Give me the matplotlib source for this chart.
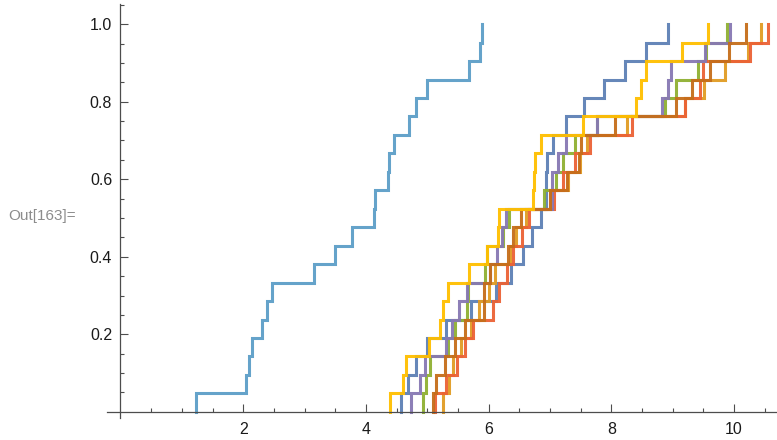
import matplotlib.pyplot as plt
import numpy as np

blue = [4.57, 4.69, 4.81, 4.99, 5.30, 5.72, 6.12, 6.37, 6.56, 6.71, 6.86,
        6.93, 6.94, 6.95, 7.05, 7.26, 7.56, 7.88, 8.23, 8.56, 8.92]
orange = [5.26, 5.36, 5.42, 5.55, 5.72, 5.85, 6.00, 6.10, 6.35, 6.45, 6.61,
          7.00, 7.30, 7.49, 7.60, 8.25, 9.20, 9.51, 9.85, 10.23, 10.44]
green = [4.93, 4.98, 5.04, 5.33, 5.45, 5.64, 5.67, 5.94, 5.98, 6.24, 6.34,
         6.90, 7.10, 7.22, 7.41, 7.77, 8.87, 9.05, 9.42, 9.55, 9.88]
red = [5.12, 5.31, 5.48, 5.61, 5.75, 6.07, 6.17, 6.30, 6.40, 6.55, 6.65,
       7.07, 7.22, 7.40, 7.65, 8.33, 9.20, 9.44, 9.50, 10.26, 10.56]
purple = [4.74, 4.88, 4.96, 5.30, 5.40, 5.52, 5.65, 6.02, 6.13, 6.21, 6.28,
          7.03, 7.04, 7.13, 7.26, 7.76, 8.82, 8.93, 8.98, 9.53, 9.94]
brown = [5.09, 5.15, 5.29, 5.45, 5.61, 5.92, 5.93, 6.02, 6.32, 6.39, 6.52,
         7.00, 7.28, 7.48, 7.50, 8.06, 9.06, 9.31, 9.60, 9.91, 10.19]
light_blue = [1.23, 2.05, 2.10, 2.14, 2.30, 2.39, 2.47, 3.16, 3.49, 3.78, 4.13,
              4.14, 4.36, 4.38, 4.45, 4.71, 4.81, 5.00, 5.68, 5.86, 5.89]
yellow = [4.39, 4.61, 4.66, 5.02, 5.20, 5.26, 5.34, 5.68, 5.98, 6.16, 6.17,
          6.73, 6.74, 6.75, 6.86, 7.54, 8.41, 8.49, 8.56, 9.15, 9.58]

series = [blue, orange, green, red, purple, brown, light_blue, yellow]
colors = ["#5E81B5", "#E19C24", "#8FB032", "#EB6235",
          "#8778B3", "#C56E1A", "#5D9EC7", "#FFBF00"]

x_ticks = [2, 4, 6, 8, 10]
y_ticks = [0.2, 0.4, 0.6, 0.8, 1.0]


def ecdf_path(values):
    v = np.sort(np.asarray(values))
    n = len(v)
    levels = np.arange(1, n + 1) / n
    xs = np.repeat(v, 2)
    ys = np.concatenate([[0], np.repeat(levels, 2)[:-1]])
    return xs, ys


plt.rcParams['font.family'] = ['Liberation Sans', 'DejaVu Sans']

fig = plt.figure(figsize=(7.77, 4.40), dpi=100)
ax = fig.add_axes([107 / 777, 22 / 440, 670 / 777, 414 / 440])

for vals, c in zip(series, colors):
    xs, ys = ecdf_path(vals)
    ax.plot(xs, ys, color=c, lw=2.2, solid_joinstyle='miter', alpha=0.95)

ax.set_xlim(-0.22, 10.70)
ax.set_ylim(-0.016, 1.052)

for side in ['top', 'right']:
    ax.spines[side].set_visible(False)
ax.spines['left'].set_position(('data', 0))
ax.spines['bottom'].set_position(('data', 0))
for side in ['left', 'bottom']:
    ax.spines[side].set_color('#4d4d4d')
    ax.spines[side].set_linewidth(0.9)

ax.set_xticks(x_ticks)
ax.set_xticks(np.arange(0.5, 10.6, 0.5), minor=True)
ax.set_yticks(y_ticks)
ax.set_yticks(np.arange(0.05, 1.051, 0.05), minor=True)
ax.set_yticklabels([f"{t:.1f}" for t in y_ticks])
ax.tick_params(which='both', direction='in', color='#4d4d4d', width=0.8,
               labelsize=11.5, labelcolor='#1a1a1a')
ax.tick_params(which='major', length=5.5)
ax.tick_params(which='minor', length=3)
ax.tick_params(axis='x', pad=7)
ax.tick_params(axis='y', pad=6)

fig.text(8 / 777, 1 - 216 / 440, "Out[163]=", color='#8c8c8c', fontsize=11,
         va='center', ha='left')

plt.savefig("out.png", dpi=100)
